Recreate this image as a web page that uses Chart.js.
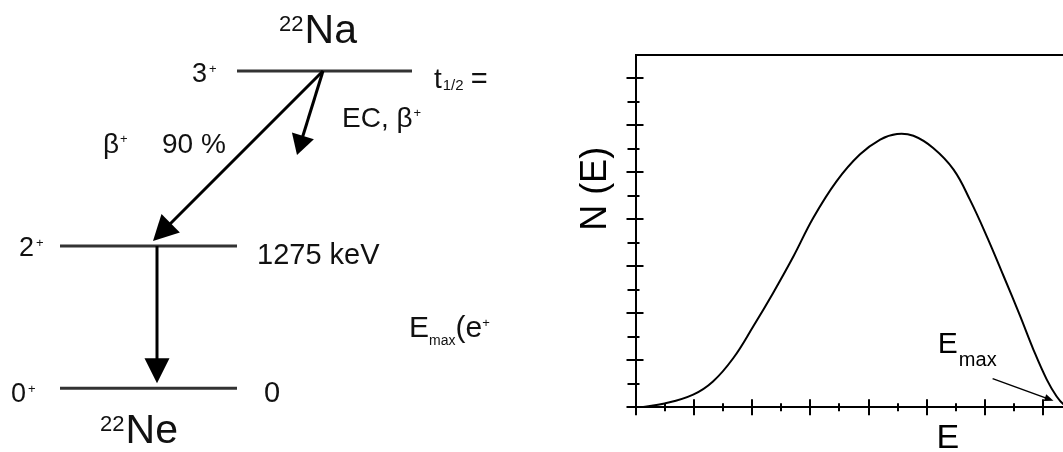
<!DOCTYPE html>
<html lang="en">
<head>
<meta charset="UTF-8">
<title>22Na decay scheme and positron spectrum</title>
<script src="https://cdn.jsdelivr.net/npm/chart.js"></script>
<style>
  html, body { margin: 0; padding: 0; background: #fff; overflow: hidden; }
  body { width: 1063px; height: 452px; position: relative; }
  #scheme { position: absolute; left: 0; top: 0; filter: blur(0.5px); }
  #spectrum { position: absolute; left: 500px; top: 0; }
</style>
</head>
<body>
<canvas id="scheme" width="500" height="452"></canvas>
<canvas id="spectrum" width="760" height="452"></canvas>
<script>
// ---- decay scheme (energies in keV) ----
const levelEnergy = [2842, 1275, 0];
const levelSpin = ['3', '2', '0'];          // all parity +
const levelNote = ['t', '1275 keV', '0'];   // 't' gets the 1/2 subscript

// transitions: start / end energy; the EC branch is drawn as a short stub
const transFrom = [2842, 2842, 1275];
const transTo = [1275, 2090, 0];

// ---- beta+ spectrum ----
const energy = [0.1, 0.5, 0.99, 1.33, 1.68, 2.02, 2.36, 2.71, 3.05, 3.45, 3.85, 4.2,
  4.49, 4.77, 5.11, 5.46, 5.74, 6.03, 6.32, 6.6, 6.83, 7.06, 7.23, 7.35, 7.45];
const counts = [0.0, 0.08, 0.27, 0.55, 1.05, 1.72, 2.43, 3.21, 4.03, 4.81, 5.38, 5.70,
  5.82, 5.78, 5.52, 5.06, 4.42, 3.64, 2.79, 1.95, 1.23, 0.59, 0.23, 0.06, 0.0];
const xMajor = [0, 1, 2, 3, 4, 5, 6, 7, 8, 9, 10];
const yMajor = [0, 1, 2, 3, 4, 5, 6, 7];

const FONT = '"Liberation Sans", Arial, sans-serif';
const INK = '#111';

// draw a run of text pieces: [text, size, rise, extra gap]
function drawRuns(ctx, x, y, runs, align) {
  let w = 0;
  runs.forEach(r => { ctx.font = r[1] + 'px ' + FONT; w += ctx.measureText(r[0]).width + (r[3] || 0); });
  let cx = align === 'center' ? x - w / 2 : x;
  ctx.textAlign = 'left';
  ctx.textBaseline = 'alphabetic';
  runs.forEach(r => {
    ctx.font = r[1] + 'px ' + FONT;
    ctx.fillText(r[0], cx, y - (r[2] || 0));
    cx += ctx.measureText(r[0]).width + (r[3] || 0);
  });
}

function arrow(ctx, x0, y0, x1, y1, head, width, lw) {
  const dx = x1 - x0, dy = y1 - y0, len = Math.hypot(dx, dy);
  const ux = dx / len, uy = dy / len;
  const bx = x1 - ux * head, by = y1 - uy * head;
  ctx.lineWidth = lw;
  ctx.beginPath();
  ctx.moveTo(x0, y0);
  ctx.lineTo(bx + ux * 2, by + uy * 2);
  ctx.stroke();
  ctx.beginPath();
  ctx.moveTo(x1, y1);
  ctx.lineTo(bx - uy * width / 2, by + ux * width / 2);
  ctx.lineTo(bx + uy * width / 2, by - ux * width / 2);
  ctx.closePath();
  ctx.fill();
}

// horizontal layout of the scheme
const levelSpan = [[237, 412], [60, 237], [60, 237]];
const transX = [[323, 148], [323, 297], [157, 157]];
const transGap = [5, 0, 5];
const transHead = [[25, 26], [20, 23], [25, 25]];

const schemeText = {
  id: 'schemeText',
  afterDatasetsDraw(chart) {
    const {ctx, scales: {x, y}} = chart;
    ctx.save();
    ctx.fillStyle = '#000';
    ctx.strokeStyle = '#000';
    transFrom.forEach((e, i) => {
      const x0 = x.getPixelForValue(transX[i][0]), y0 = y.getPixelForValue(e);
      let x1 = x.getPixelForValue(transX[i][1]), y1 = y.getPixelForValue(transTo[i]);
      const g = transGap[i];
      if (g) {
        const k = g / (y1 - y0);
        x1 -= (x1 - x0) * k; y1 -= g;
      }
      arrow(ctx, x0, y0, x1, y1, transHead[i][0], transHead[i][1], 3);
    });

    ctx.fillStyle = INK;
    const ly = levelEnergy.map(e => y.getPixelForValue(e));
    // spins
    const spinX = [192, 19, 11], spinDy = [11, 10, 14];
    levelSpin.forEach((s, i) => {
      drawRuns(ctx, spinX[i], ly[i] + spinDy[i], [[s, 27, 0, 2], ['+', 13, 9]]);
    });
    // level notes
    drawRuns(ctx, 434, ly[0] + 17, [[levelNote[0], 28, 0, 1], ['1/2', 15, -2, 7], ['=', 29]]);
    drawRuns(ctx, x.getPixelForValue(levelSpan[1][1]) + 20, ly[1] + 18, [[levelNote[1], 29]]);
    drawRuns(ctx, x.getPixelForValue(levelSpan[2][1]) + 27, ly[2] + 14, [[levelNote[2], 29]]);
    // nuclides
    drawRuns(ctx, 318, ly[0] - 28, [['22', 22, 12, 1], ['Na', 41]], 'center');
    drawRuns(ctx, 139, ly[2] + 55, [['22', 22, 12, 1], ['Ne', 41]], 'center');
    // branch labels
    drawRuns(ctx, 342, 127, [['EC, β', 28, 0, 1], ['+', 13, 10]]);
    drawRuns(ctx, 103, 153, [['β', 28, 0, 1], ['+', 13, 10]]);
    drawRuns(ctx, 162, 153, [['90 %', 28]]);
    drawRuns(ctx, 409, 337, [['E', 30], ['max', 14, -8], ['(e', 30], ['+', 13, 10]]);
    ctx.restore();
  }
};

new Chart(document.getElementById('scheme'), {
  type: 'line',
  data: {
    datasets: levelEnergy.map((e, i) => ({
      data: [{x: levelSpan[i][0], y: e}, {x: levelSpan[i][1], y: e}],
      borderColor: '#333',
      borderWidth: 3,
      pointRadius: 0
    }))
  },
  options: {
    responsive: false,
    animation: false,
    events: [],
    layout: {padding: 0},
    plugins: {legend: {display: false}, tooltip: {enabled: false}},
    scales: {
      x: {type: 'linear', display: false, min: 0, max: 500},
      y: {type: 'linear', display: false, min: -570, max: 3478}
    }
  },
  plugins: [schemeText]
});

// ticks crossing the axes, y label and the Emax marker
const spectrumMarks = {
  id: 'spectrumMarks',
  afterDraw(chart) {
    const {ctx, chartArea: a, scales: {x, y}} = chart;
    ctx.save();
    ctx.strokeStyle = '#000';
    ctx.fillStyle = '#000';
    ctx.lineWidth = 2;
    ctx.beginPath();
    xMajor.forEach(v => {
      const px = Math.round(x.getPixelForValue(v));
      ctx.moveTo(px, a.bottom - 8); ctx.lineTo(px, a.bottom + 8);
      const pm = Math.round(x.getPixelForValue(v + 0.5));
      ctx.moveTo(pm, a.bottom - 4); ctx.lineTo(pm, a.bottom + 4);
    });
    yMajor.forEach(v => {
      const py = Math.round(y.getPixelForValue(v));
      ctx.moveTo(a.left - 9, py); ctx.lineTo(a.left + 8, py);
      const pm = Math.round(y.getPixelForValue(v + 0.5));
      if (v + 0.5 < y.max) { ctx.moveTo(a.left - 8, pm); ctx.lineTo(a.left + 4, pm); }
    });
    ctx.stroke();

    // N (E)
    ctx.save();
    ctx.translate(a.left - 39, y.getPixelForValue(4.65));
    ctx.rotate(-Math.PI / 2);
    ctx.font = '36px ' + FONT;
    ctx.textAlign = 'center';
    ctx.textBaseline = 'middle';
    ctx.fillText('N (E)', 0, 0);
    ctx.restore();

    // Emax label with pointer to the spectrum end
    drawRuns(ctx, x.getPixelForValue(5.19), y.getPixelForValue(1.157), [['E', 30, 0, 1], ['max', 20, -13]]);
    arrow(ctx, x.getPixelForValue(6.13), y.getPixelForValue(0.61),
      x.getPixelForValue(7.175), y.getPixelForValue(0.14), 9, 7, 1.5);
    ctx.restore();
  }
};

const axisLine = {display: true, color: '#000', width: 2};

new Chart(document.getElementById('spectrum'), {
  type: 'line',
  data: {
    datasets: [{
      data: energy.map((e, i) => ({x: e, y: counts[i]})),
      borderColor: '#000',
      borderWidth: 2,
      pointRadius: 0,
      fill: false,
      tension: 0.4
    }]
  },
  options: {
    responsive: false,
    animation: false,
    events: [],
    layout: {padding: {left: 135.5, top: 55, right: 0, bottom: 0}},
    plugins: {legend: {display: false}, tooltip: {enabled: false}},
    scales: {
      x: {
        type: 'linear', min: 0, max: 10.72,
        grid: {display: false, drawTicks: false},
        ticks: {display: false},
        border: axisLine,
        title: {
          display: true, text: 'E', color: '#000',
          font: {family: FONT, size: 34, lineHeight: 0.6},
          padding: {top: 20.7, bottom: 3.6}
        }
      },
      x2: {
        type: 'linear', position: 'top', min: 0, max: 10.72,
        grid: {display: false, drawTicks: false},
        ticks: {display: false},
        border: axisLine
      },
      y: {
        type: 'linear', min: 0, max: 7.5,
        grid: {display: false, drawTicks: false},
        ticks: {display: false},
        border: axisLine
      }
    }
  },
  plugins: [spectrumMarks]
});
</script>
</body>
</html>
